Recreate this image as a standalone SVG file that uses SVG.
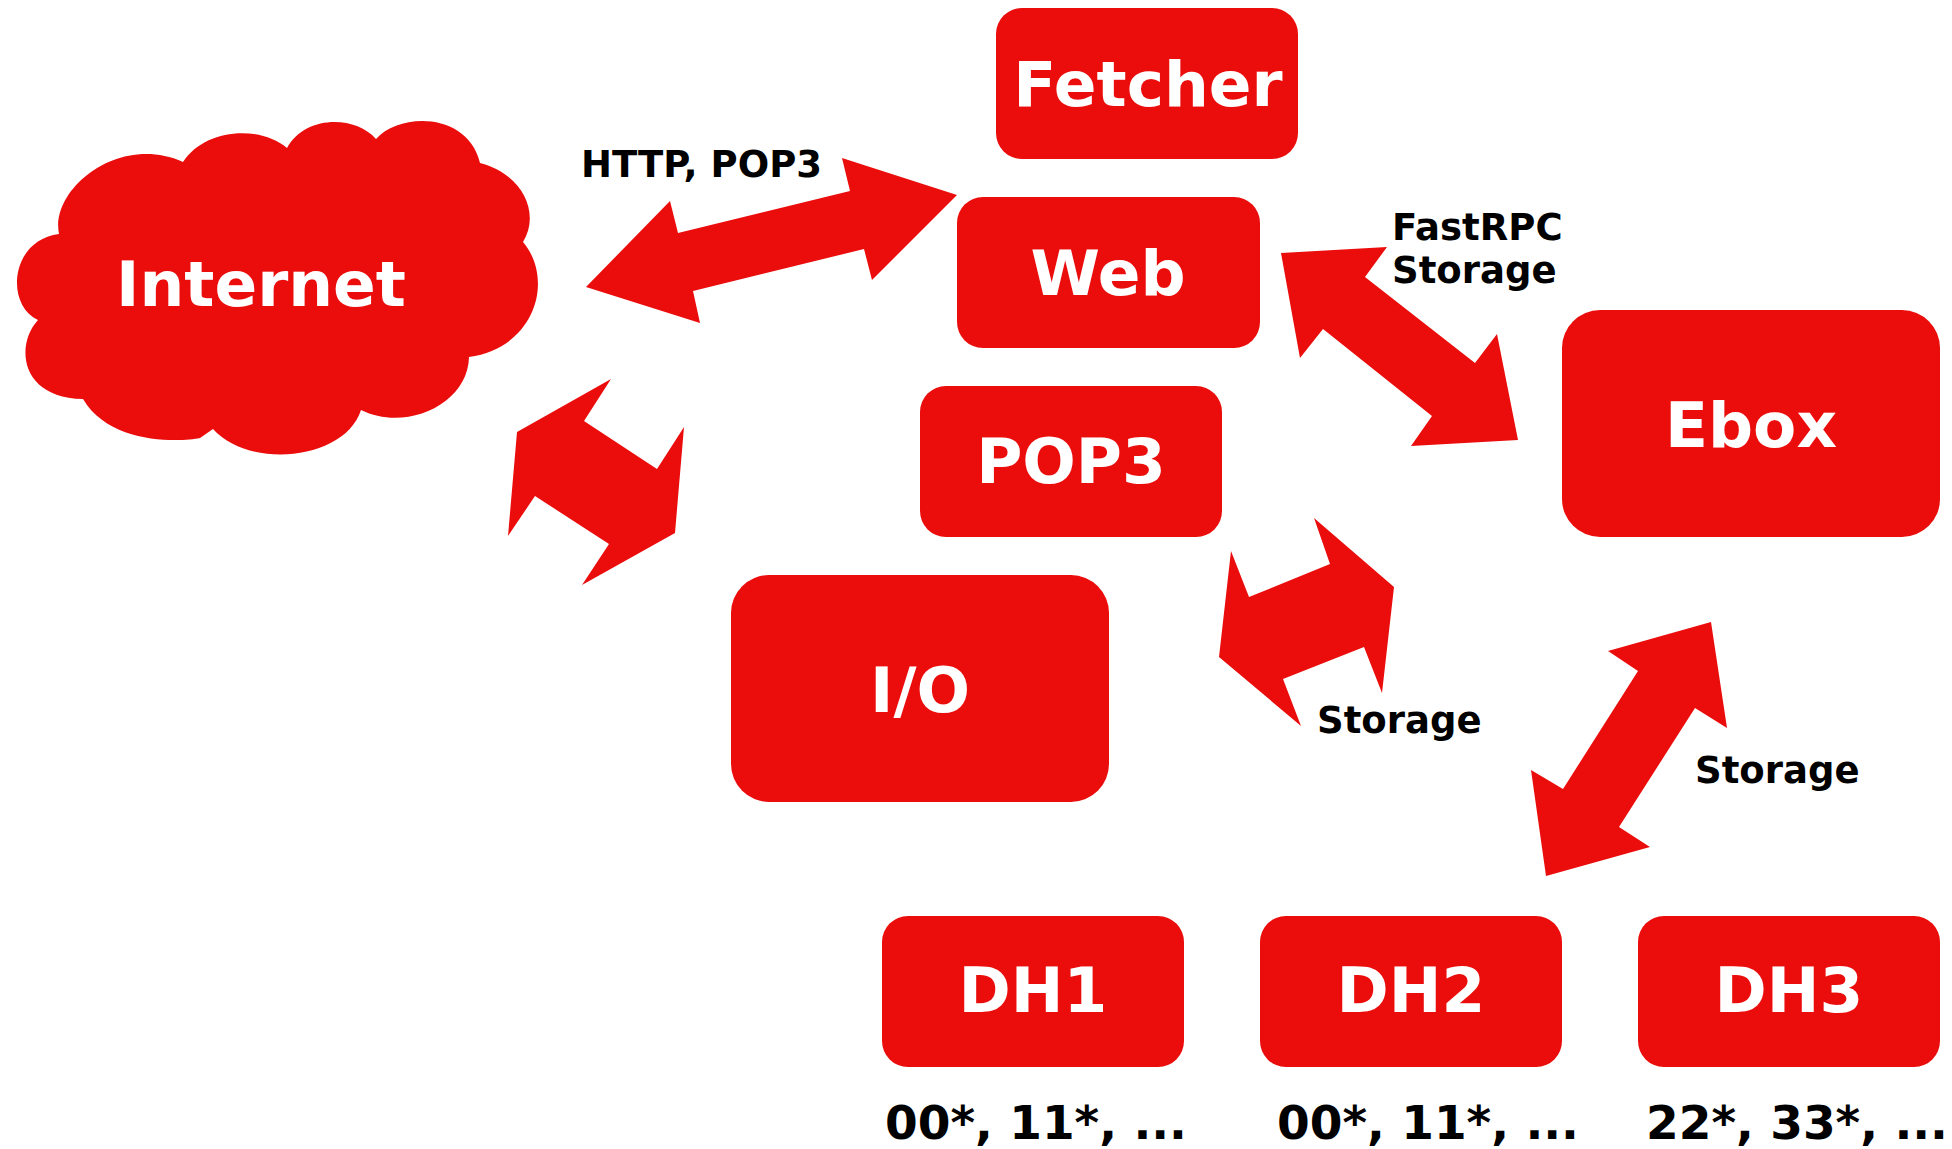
<svg xmlns="http://www.w3.org/2000/svg" width="1952" height="1149" viewBox="0 0 1952 1149">
  <style>
    .box { fill: #EB0C0C; }
    .arrow { fill: #EB0C0C; }
    .nlabel { font-family: "DejaVu Sans", "Liberation Sans", sans-serif; font-weight: bold; font-size: 63px; fill: #FFFFFF; text-anchor: middle; }
    .elabel { font-family: "DejaVu Sans", "Liberation Sans", sans-serif; font-weight: bold; font-size: 37px; fill: #000000; }
    .klabel { font-family: "DejaVu Sans", "Liberation Sans", sans-serif; font-weight: bold; font-size: 47px; fill: #000000; }
  </style>
  <rect width="1952" height="1149" fill="#FFFFFF"/>

  <g id="internet">
    <path class="box" d="M 59,234 C 50,190 118,133 183,162 C 205,128 260,125 287,148 C 305,115 355,115 376,139 C 400,112 468,112 480,163 C 525,175 540,215 523,242 C 555,280 535,348 469,357 C 468,405 405,432 361,410 C 345,460 250,470 213,429 L 200,438 C 180,442 110,445 83,399 C 20,398 15,345 38,320 C 5,305 10,240 59,234 Z"/>
    <text class="nlabel" x="261" y="306">Internet</text>
  </g>

  <g id="fetcher">
    <rect class="box" x="996" y="8" width="302" height="151" rx="26" ry="26"/>
    <text class="nlabel" x="1148" y="106">Fetcher</text>
  </g>

  <g id="web">
    <rect class="box" x="957" y="197" width="303" height="151" rx="26" ry="26"/>
    <text class="nlabel" x="1108" y="295">Web</text>
  </g>

  <g id="pop3">
    <rect class="box" x="920" y="386" width="302" height="151" rx="26" ry="26"/>
    <text class="nlabel" x="1071" y="483">POP3</text>
  </g>

  <g id="io">
    <rect class="box" x="731" y="575" width="378" height="227" rx="38" ry="38"/>
    <text class="nlabel" x="920" y="712">I/O</text>
  </g>

  <g id="ebox">
    <rect class="box" x="1562" y="310" width="378" height="227" rx="38" ry="38"/>
    <text class="nlabel" x="1751" y="447">Ebox</text>
  </g>

  <g id="dh1">
    <rect class="box" x="882" y="916" width="302" height="151" rx="26" ry="26"/>
    <text class="nlabel" x="1033" y="1012">DH1</text>
    <text class="klabel" x="885" y="1139">00*, 11*, ...</text>
  </g>

  <g id="dh2">
    <rect class="box" x="1260" y="916" width="302" height="151" rx="26" ry="26"/>
    <text class="nlabel" x="1411" y="1012">DH2</text>
    <text class="klabel" x="1277" y="1139">00*, 11*, ...</text>
  </g>

  <g id="dh3">
    <rect class="box" x="1638" y="916" width="302" height="151" rx="26" ry="26"/>
    <text class="nlabel" x="1789" y="1012">DH3</text>
    <text class="klabel" x="1646" y="1139">22*, 33*, ...</text>
  </g>

  <g id="connectors">
    <polygon class="arrow" points="586,287 670,201 678,233 850,191 842,158 957,195 872,280 864,249 693,291 700,323"/>
    <text class="elabel" x="581" y="177">HTTP, POP3</text>

    <polygon class="arrow" points="1281,253 1387,247 1365,277 1475,363 1497,334 1518,440 1411,446 1432,416 1323,329 1300,358"/>
    <text class="elabel" x="1392" y="240">FastRPC</text>
    <text class="elabel" x="1392" y="283">Storage</text>

    <polygon class="arrow" points="517,432 611,379 584,421 657,469 684,427 675,533 582,585 609,544 535,496 508,536"/>

    <polygon class="arrow" points="1394,587 1382,693 1364,647 1283,679 1301,726 1219,657 1231,551 1249,597 1330,564 1314,518"/>
    <text class="elabel" x="1317" y="733">Storage</text>

    <polygon class="arrow" points="1711,622 1727,728 1695,708 1619,827 1650,847 1546,876 1531,770 1563,789 1638,671 1608,651"/>
    <text class="elabel" x="1695" y="783">Storage</text>
  </g>
</svg>
